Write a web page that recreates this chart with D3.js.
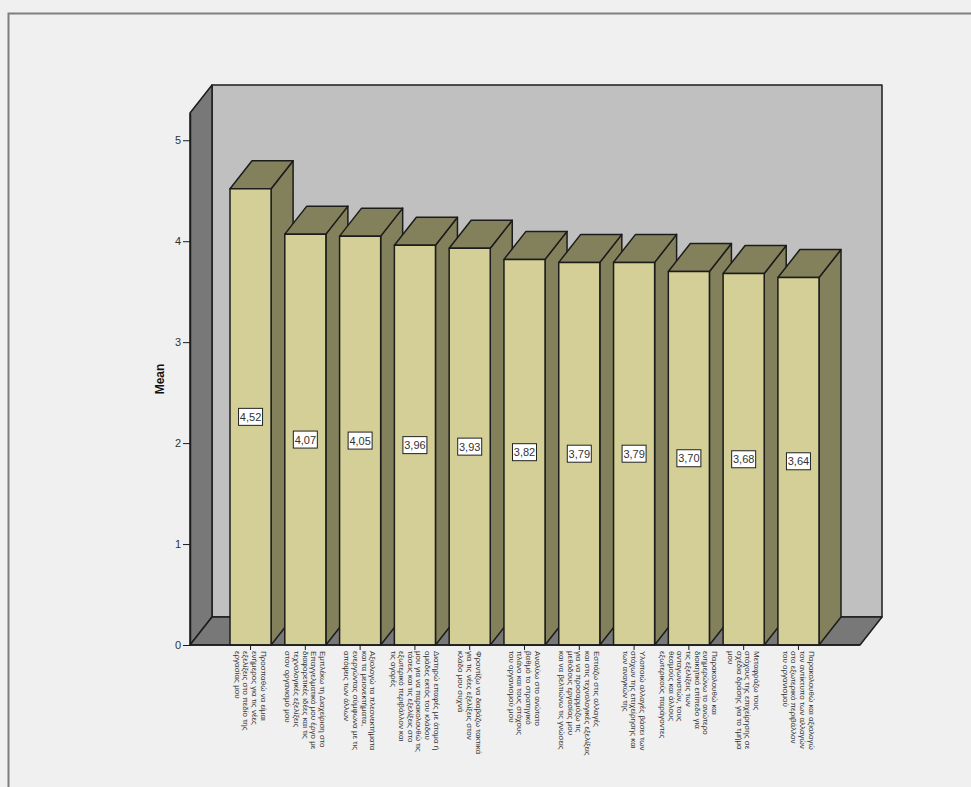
<!DOCTYPE html>
<html>
<head>
<meta charset="utf-8">
<script src="https://cdn.jsdelivr.net/npm/d3@7/dist/d3.min.js"></script>
<style>
  html, body { margin: 0; padding: 0; background: #f0f0f0; }
  svg { display: block; font-family: "Liberation Sans", Arial, sans-serif; }
</style>
</head>
<body>
<svg id="chart" width="971" height="787"></svg>
<script>
// Wrapped category captions, one inner array per bar
const categories = [
  ["Προσπαθώ να είμαι", "ενήμερος για τις νέες", "εξελίξεις στο πεδίο της", "εργασίας μου"],
  ["Εμπλέκω τη Διαχείριση στο", "Επαγγελματικό μου έργο με", "διαφορετικές ιδέες και τις", "τεχνολογικές εξελίξεις", "στον οργανισμό μου"],
  ["Αξιολογώ τα πλεονεκτήματα", "και τα μειονεκτήματα,", "ενεργώντας σύμφωνα με τις", "απόψεις των άλλων"],
  ["Διατηρώ επαφές με άτομα ή", "ομάδες εκτός του κλάδου", "μου για να παρακολουθώ τις", "τάσεις και τις εξελίξεις στο", "εξωτερικό περιβάλλον και", "τις αγορές"],
  ["Φροντίζω να διαβάζω τακτικά", "για τις νέες εξελίξεις στον", "κλάδο μου συχνά"],
  ["Αναλύω στο ανώτατο", "βαθμό το στρατηγικό", "πλάνο και τους στόχους", "του οργανισμού μου"],
  ["Εστιάζω στις αλλαγές", "και στις τεχνολογικές εξελίξεις", "για να προσαρμόζω τις", "μεθόδους εργασίας μου", "και να βελτιώνω τις γνώσεις"],
  ["Υλοποιώ αλλαγές βάσει των", "στόχων της επιχείρησης και", "των αναγκών της"],
  ["Παρακολουθώ και", "ενημερώνω το ανώτερο", "διοικητικό επίπεδο για", "τις εξελίξεις των", "ανταγωνιστών, τους", "θεσμούς και άλλους", "εξωτερικούς παράγοντες"],
  ["Μεταφράζω τους", "στόχους της επιχείρησης σε", "σχέδια δράσης για το τμήμα", "μου"],
  ["Παρακολουθώ και αξιολογώ", "τον αντίκτυπο των αλλαγών", "στο εξωτερικό περιβάλλον", "του οργανισμού"]
];
const means = [4.52, 4.07, 4.05, 3.96, 3.93, 3.82, 3.79, 3.79, 3.70, 3.68, 3.64];
const yTicks = [0, 1, 2, 3, 4, 5];
const yDomainMax = 5.27;
const yTitle = "Mean";

const colors = {
  page: "#f0f0f0", frame: "#7f7f7f", wall: "#787878", back: "#c0c0c0",
  front: "#d3cf96", shade: "#83815c", stroke: "#1c1c1c", text: "#333333"
};

// Oblique offset used for the box depth of the bars and of the plot room
const depth = { dx: 22, dy: -28 };
const room = { left: 190, right: 860, top: 113, bottom: 645 };

const svg = d3.select("#chart");

const y = d3.scaleLinear().domain([0, yDomainMax]).range([room.bottom, room.top]);
const x = d3.scaleBand().domain(d3.range(means.length)).range([230, 819]).paddingInner(0.25);

const poly = pts => pts.map(p => p.join(",")).join(" ");

// Outer frame, only its top and left edges are visible
svg.append("path")
  .attr("d", "M8.5,787V13.5H971")
  .attr("fill", "none").attr("stroke", colors.frame).attr("stroke-width", 2);

// Plot room: back wall, left wall, floor
const room3d = svg.append("g").attr("stroke", colors.stroke).attr("stroke-width", 1.5).attr("stroke-linejoin", "round");
room3d.append("polygon")
  .attr("points", poly([
    [room.left + depth.dx, room.top + depth.dy], [room.right + depth.dx, room.top + depth.dy],
    [room.right + depth.dx, room.bottom + depth.dy], [room.left + depth.dx, room.bottom + depth.dy]
  ]))
  .attr("fill", colors.back);
room3d.append("polygon")
  .attr("points", poly([
    [room.left, room.top], [room.left + depth.dx, room.top + depth.dy],
    [room.left + depth.dx, room.bottom + depth.dy], [room.left, room.bottom]
  ]))
  .attr("fill", colors.wall);
room3d.append("polygon")
  .attr("points", poly([
    [room.left, room.bottom], [room.left + depth.dx, room.bottom + depth.dy],
    [room.right + depth.dx, room.bottom + depth.dy], [room.right, room.bottom]
  ]))
  .attr("fill", colors.wall);

// Bars, drawn left to right so each front covers the previous side face
const bars = svg.append("g").selectAll("g").data(means).join("g")
  .attr("stroke", colors.stroke).attr("stroke-width", 1.5).attr("stroke-linejoin", "round");

bars.append("polygon") // right side face
  .attr("fill", colors.shade)
  .attr("points", (d, i) => {
    const r = x(i) + x.bandwidth();
    return poly([[r, y(d)], [r + depth.dx, y(d) + depth.dy], [r + depth.dx, y(0) + depth.dy], [r, y(0)]]);
  });
bars.append("polygon") // top face
  .attr("fill", colors.shade)
  .attr("points", (d, i) => {
    const l = x(i), r = l + x.bandwidth();
    return poly([[l, y(d)], [l + depth.dx, y(d) + depth.dy], [r + depth.dx, y(d) + depth.dy], [r, y(d)]]);
  });
bars.append("rect") // front face
  .attr("fill", colors.front)
  .attr("x", (d, i) => x(i)).attr("y", d => y(d))
  .attr("width", x.bandwidth()).attr("height", d => y(0) - y(d));

// Value tags centred on each bar front
const formatValue = d => d.toFixed(2).replace(".", ",");
const tags = svg.append("g").selectAll("g").data(means).join("g")
  .attr("transform", (d, i) => `translate(${x(i) + x.bandwidth() / 2},${(y(d) + y(0)) / 2})`);
tags.append("rect")
  .attr("x", -12).attr("y", -8.5).attr("width", 24).attr("height", 17)
  .attr("fill", "#ffffff").attr("stroke", "#222222").attr("stroke-width", 1);
tags.append("text")
  .attr("text-anchor", "middle").attr("y", 4)
  .attr("font-size", 11).attr("fill", colors.text)
  .text(formatValue);

// Value axis
const yAxis = svg.append("g")
  .attr("transform", `translate(${room.left},0)`)
  .call(d3.axisLeft(y).tickValues(yTicks).tickSizeInner(7).tickSizeOuter(0).tickPadding(2).tickFormat(d3.format("d")));
yAxis.select(".domain").attr("stroke", colors.stroke).attr("stroke-width", 1.5);
yAxis.selectAll(".tick line").attr("stroke", colors.stroke);
yAxis.selectAll(".tick text").attr("font-size", 11).attr("fill", colors.text)
  .attr("font-family", "Liberation Sans, Arial, sans-serif");

svg.append("text")
  .attr("transform", "translate(164,379) rotate(-90)")
  .attr("text-anchor", "middle").attr("font-size", 12).attr("font-weight", "bold").attr("fill", "#111111")
  .text(yTitle);

// Category axis with ticks under each bar and rotated, wrapped captions
const xAxis = svg.append("g")
  .attr("transform", `translate(0,${room.bottom})`)
  .call(d3.axisBottom(x).tickSizeInner(5).tickSizeOuter(0).tickFormat(""));
xAxis.select(".domain").remove();
xAxis.selectAll(".tick line").attr("stroke", colors.stroke);
svg.append("line")
  .attr("x1", room.left).attr("x2", room.right)
  .attr("y1", room.bottom).attr("y2", room.bottom)
  .attr("stroke", colors.stroke).attr("stroke-width", 1.5);

const lineGap = 8.6;
const captions = svg.append("g").selectAll("text").data(categories).join("text")
  .attr("transform", (d, i) => `translate(${x(i) + x.bandwidth() / 2},651) rotate(90)`)
  .attr("font-size", 8).attr("fill", colors.text);
captions.selectAll("tspan").data(d => d.map((line, k) => ({ line, k, n: d.length }))).join("tspan")
  .attr("x", 0)
  .attr("y", d => (d.k - (d.n - 1) / 2) * lineGap + 2.8)
  .text(d => d.line);
</script>
</body>
</html>
